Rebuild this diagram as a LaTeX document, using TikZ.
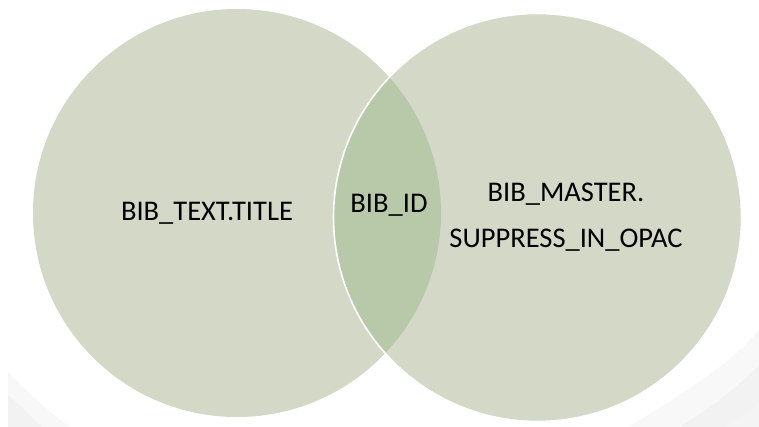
\documentclass[tikz,border=0pt]{standalone}
\usepackage{fontspec}
\setmainfont{Carlito}
\definecolor{circfill}{HTML}{D4D8C7}
\definecolor{lensfill}{HTML}{B8C9AA}
\definecolor{bgA}{HTML}{F8F8F8}
\definecolor{bgB}{HTML}{F2F2F2}
\tikzset{
  venn/.style={circle, minimum size=408pt, inner sep=0pt, fill=circfill},
  lbl/.style={font=\fontsize{28.5}{46}\selectfont, text=black, align=center, inner sep=0pt}
}
\begin{document}
\begin{tikzpicture}[x=1pt,y=-1pt]
\fill[white] (0,0) rectangle (759,427);
\useasboundingbox (0,0) rectangle (759,427);
% faint slide decoration
\fill[bgA] (8,372) .. controls (40,405) and (60,420) .. (70,427) -- (8,427) -- cycle;
\fill[bgB] (8,395) .. controls (25,410) and (35,420) .. (42,427) -- (8,427) -- cycle;
\fill[bgA] (628,427) .. controls (690,390) and (735,360) .. (759,330) -- (759,427) -- cycle;
\fill[bgB] (680,427) .. controls (715,405) and (740,385) .. (759,365) -- (759,427) -- cycle;
\fill[bgB!60!bgA] (726,427) .. controls (740,418) and (750,410) .. (759,402) -- (759,427) -- cycle;
% circles
\node[venn] (L) at (237,213) {};
\node[venn] (R) at (537.5,217.5) {};
\begin{scope}
  \clip (L.center) circle[radius=204pt];
  \fill[lensfill] (R.center) circle[radius=204pt];
\end{scope}
\draw[white, line width=1.6pt] (R.center) circle[radius=204pt];
% labels
\node[lbl] (t1) at (207,213) {BIB\_TEXT.TITLE};
\node[lbl] (t2) at (389,205) {BIB\_ID};
\node[lbl] (t3) at (566,217) {BIB\_MASTER.\\SUPPRESS\_IN\_OPAC};
\end{tikzpicture}
\end{document}
